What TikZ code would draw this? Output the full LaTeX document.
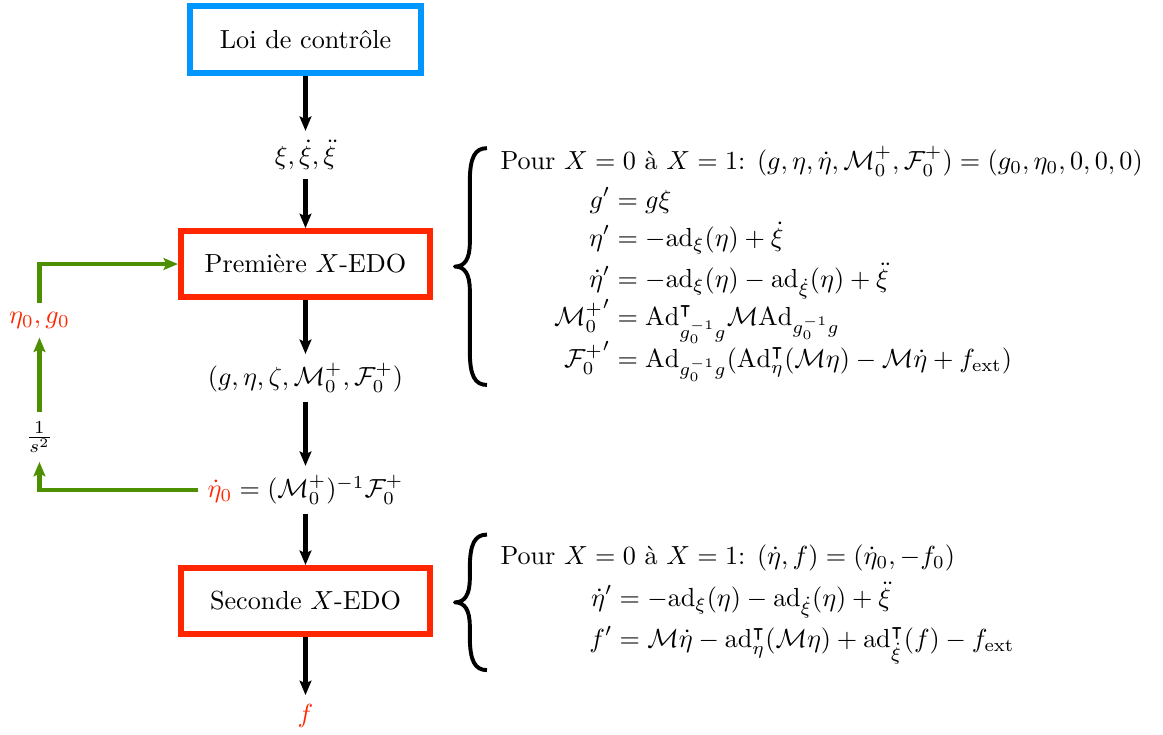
\documentclass[tikz,border=0pt]{standalone}
\usepackage{amsmath,amssymb}
\usetikzlibrary{arrows.meta}
\definecolor{ctrlblue}{RGB}{0,150,255}
\definecolor{odered}{RGB}{255,38,0}
\definecolor{loopgreen}{RGB}{77,143,0}
\begin{document}
\begin{tikzpicture}[>={Stealth[length=5.5pt,width=4.5pt,inset=1pt]},
flow/.style = {->,line width=1.6pt},
loopline/.style = {->,line width=1.6pt,loopgreen},
odebox/.style = {draw=odered,line width=2.4pt,minimum width=3.34cm,minimum height=0.88cm}]
\useasboundingbox (0,0) rectangle (15.62,-9.87);
% chaine principale
\node [draw=ctrlblue,line width=2.4pt,minimum width=3.10cm,minimum height=0.90cm] (loi) at (4.103,-0.53) {Loi de contrôle};
\node (xi) at (4.103,-2.08) {$\xi,\dot{\xi},\ddot{\xi}$};
\node [odebox] (prem) at (4.103,-3.546) {Première $X$-EDO};
\node (state) at (4.103,-5.077) {$(g,\eta,\zeta,\mathcal{M}_0^+,\mathcal{F}_0^+)$};
\node (etadot) at (4.103,-6.58) {$\color{odered}\dot{\eta}_0\color{black}=(\mathcal{M}_0^+)^{-1}\mathcal{F}_0^+$};
\node [odebox] (sec) at (4.103,-8.071) {Seconde $X$-EDO};
\node [text=odered] (f) at (4.103,-9.616) {$f$};
\draw [flow] (loi) -- (xi);
\draw [flow] (xi) -- (prem);
\draw [flow] (prem) -- (state);
\draw [flow] (state) -- (etadot);
\draw [flow] (etadot) -- (sec);
\draw [flow] (sec) -- (f);
% boucle de tir
\node (int) at (0.53,-5.87) {$\frac{1}{s^2}$};
\node [text=odered] (eg) at (0.53,-4.30) {$\eta_0,g_0$};
\draw [loopline] (etadot.west) -| (int.south);
\draw [loopline] (int.north) -- (eg.south);
\draw [loopline] (eg.north) |- (prem.west);
% equations
\node [anchor=west,inner sep=0pt] (eqa) at (6.715,-3.545) {$\begin{array}{@{}l@{}}
\text{Pour } X=0 \text{ à } X=1\text{: } (g,\eta,\dot{\eta},\mathcal{M}_0^+,\mathcal{F}_0^+)=(g_0,\eta_0,0,0,0)\\[3pt]
\hspace{20.5pt}\begin{aligned}[t]
g' &= g\xi\\[-1.5pt]
\eta' &= -\mathrm{ad}_\xi(\eta)+\dot{\xi}\\
\dot{\eta}' &= -\mathrm{ad}_\xi(\eta)-\mathrm{ad}_{\dot{\xi}}(\eta)+\ddot{\xi}\\[-3pt]
{\mathcal{M}_0^+}' &= \mathrm{Ad}^\intercal_{g_0^{-1}g}\mathcal{M}\mathrm{Ad}_{g_0^{-1}g}\\[-4pt]
{\mathcal{F}_0^+}' &= \mathrm{Ad}_{g_0^{-1}g}(\mathrm{Ad}^\intercal_\eta(\mathcal{M}\eta)-\mathcal{M}\dot{\eta}+f_{\mathrm{ext}})
\end{aligned}
\end{array}$};
\node [anchor=west,inner sep=0pt] (eqb) at (6.715,-8.10) {$\begin{array}{@{}l@{}}
\text{Pour } X=0 \text{ à } X=1\text{: } (\dot{\eta},f)=(\dot{\eta}_0,-f_0)\\[3pt]
\hspace{34pt}\begin{aligned}[t]
\dot{\eta}' &= -\mathrm{ad}_\xi(\eta)-\mathrm{ad}_{\dot{\xi}}(\eta)+\ddot{\xi}\\
f' &= \mathcal{M}\dot{\eta}-\mathrm{ad}^\intercal_\eta(\mathcal{M}\eta)+\mathrm{ad}^\intercal_{\dot{\xi}}(f)-f_{\mathrm{ext}}
\end{aligned}
\end{array}$};
% accolades
\foreach \yt/\yb in {-1.99/-5.17, -7.18/-9.00}{
\pgfmathsetmacro\ym{(\yt+\yb)/2}
\draw [line width=1.5pt,line join=round] (6.54,\yt) .. controls (6.38,\yt) and (6.31,\yt-0.12) .. (6.31,\yt-0.45) -- (6.31,\ym+0.32) .. controls (6.31,\ym+0.1) and (6.24,\ym) .. (6.11,\ym) .. controls (6.24,\ym) and (6.31,\ym-0.1) .. (6.31,\ym-0.32) -- (6.31,\yb+0.45) .. controls (6.31,\yb+0.12) and (6.38,\yb) .. (6.54,\yb);
}
\end{tikzpicture}
\end{document}
